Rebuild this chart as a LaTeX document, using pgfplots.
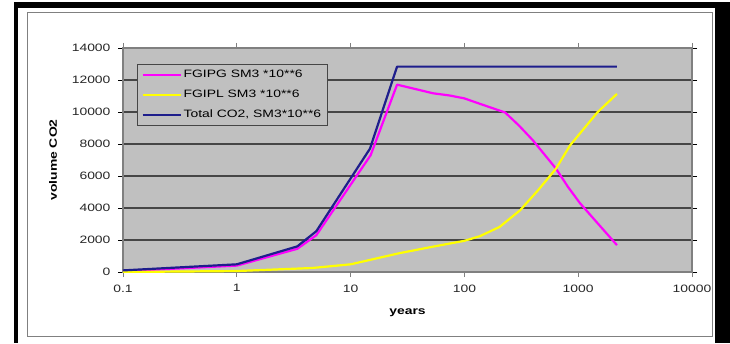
\documentclass[border=0pt]{standalone}
\usepackage{fontspec}
\setmainfont{Liberation Sans}[FakeStretch=1.3]
\usepackage{pgfplots}
\pgfplotsset{compat=1.18}
\definecolor{plotbg}{RGB}{192,192,192}
\definecolor{gridc}{RGB}{70,70,70}
\definecolor{framec}{RGB}{128,128,128}
\definecolor{navyc}{RGB}{30,30,140}
\definecolor{magc}{RGB}{255,0,255}
\definecolor{yelc}{RGB}{255,255,0}
\begin{document}
\begin{tikzpicture}[x=1pt,y=1pt]
\useasboundingbox (0,0) rectangle (730,343);
\fill[white] (0,0) rectangle (730,343);
% outer black border
\fill[black] (14,0) rectangle (18,341);
\fill[black] (14,335) rectangle (730,341);
\fill[black] (715,0) rectangle (730,341);
% inner frame
\draw[framec, line width=1pt] (27,7) rectangle (712,330);
\begin{axis}[
  at={(123pt,71pt)}, anchor=south west,
  scale only axis, width=569pt, height=224pt,
  xmode=log, xmin=0.1, xmax=10000,
  ymin=0, ymax=14000,
  xtick={0.1,1,10,100,1000,10000},
  xticklabels={0.1,1,10,100,1000,10000},
  xminorticks=false,
  ytick={0,2000,4000,6000,8000,10000,12000,14000},
  scaled y ticks=false,
  /pgf/number format/set thousands separator={},
  /pgf/number format/fixed,
  /pgf/number format/assume math mode=true,
  tick align=outside, major tick length=5pt,
  tick style={black, line width=0.8pt},
  x tick style={framec},
  ticklabel style={font=\fontsize{10.7}{12}\selectfont, text=black!85},
  yticklabel style={xshift=-4pt},
  xticklabel style={yshift=-4pt},
  axis line style={framec, line width=1.2pt},
  axis background/.style={fill=plotbg},
  ymajorgrids, grid style={gridc, line width=1.2pt},
  xlabel={\bfseries years}, ylabel={\bfseries volume CO2},
  label style={font=\fontsize{10.7}{12}\selectfont},
  xlabel style={at={(axis description cs:0.5,-0.183)}, anchor=center},
  ylabel style={at={(axis description cs:-0.123,0.5)}, anchor=center, rotate=0},
  legend style={at={(0.025,0.929)}, anchor=north west, fill=plotbg, draw=gridc, line width=0.8pt,
    font=\fontsize{10.7}{12}\selectfont, row sep=7pt, inner sep=4pt},
  legend cell align=left,
  legend image code/.code={\draw[#1, line width=2pt] (0pt,0pt) -- (38pt,0pt);},
  every axis plot/.append style={line width=2.2pt, line join=round, mark=none},
]
\addplot[magc] coordinates {
(0.1,50) (1,400) (3.4,1450) (5,2300) (15,7300) (25.6,11710) (53,11170) (74.6,11030) (100,10850) (137,10510) (228,9970) (302,9150) (401,8220) (638,6460) (813,5320) (1037,4300) (1480,3050) (2190,1680)
};
\addlegendentry{FGIPG SM3 *10**6}
\addplot[yelc] coordinates {
(0.1,0) (1,60) (4.6,250) (10,480) (27,1180) (50,1550) (100,1950) (137,2240) (204,2820) (309,3860) (444,5110) (638,6460) (847,7910) (1480,9990) (2190,11130)
};
\addlegendentry{FGIPL SM3 *10**6}
\addplot[navyc] coordinates {
(0.1,100) (1,480) (3.4,1600) (5,2550) (14.8,7710) (25.6,12835) (2190,12835)
};
\addlegendentry{Total CO2, SM3*10**6}
\end{axis}
\end{tikzpicture}
\end{document}
